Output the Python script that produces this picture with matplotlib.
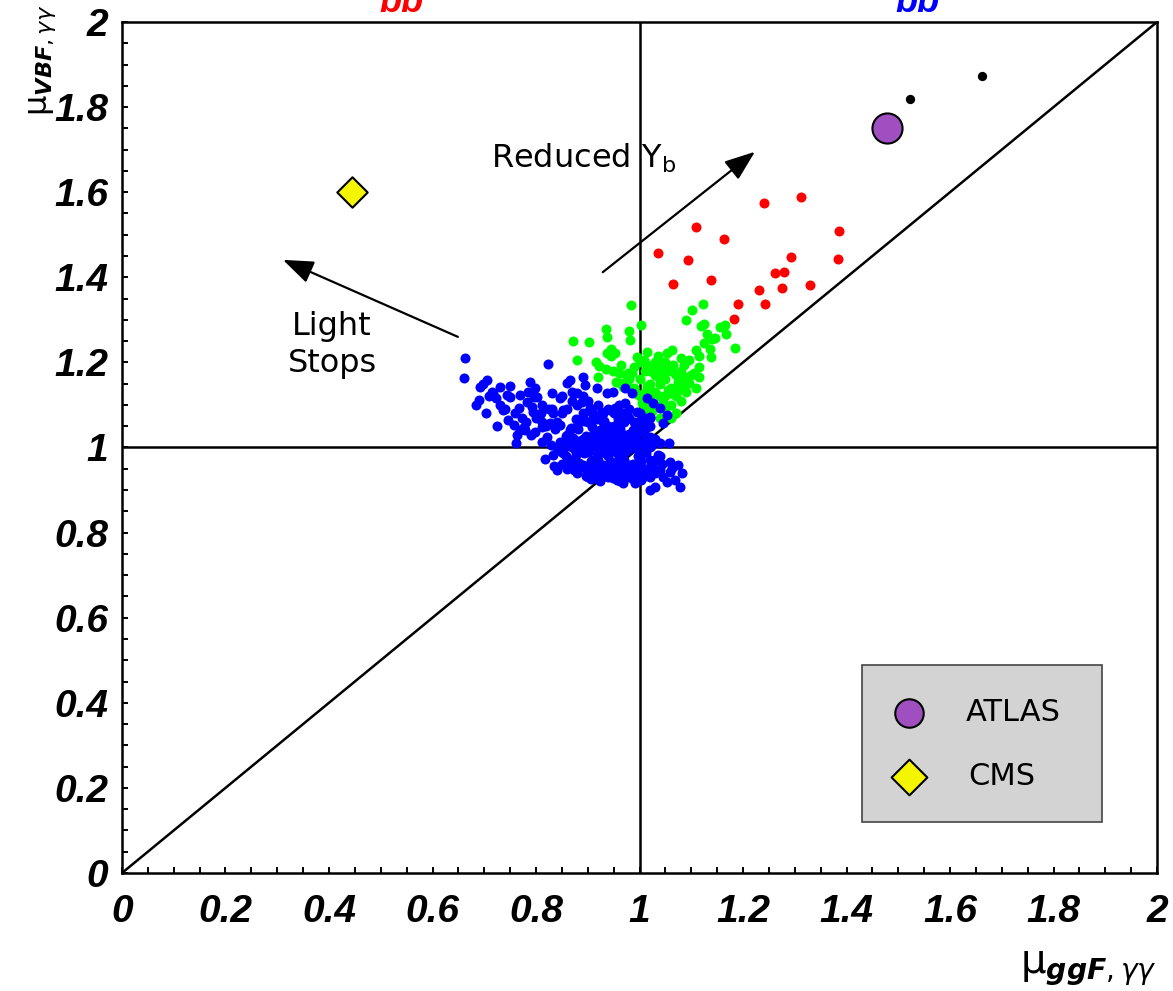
import matplotlib.pyplot as plt
from matplotlib.ticker import MultipleLocator, FuncFormatter
from matplotlib.patches import Rectangle

plt.rcParams['mathtext.fontset'] = 'dejavusans'

# scan points, split by colour
red_x = [1.241, 1.312, 1.109, 1.163, 1.386, 1.035, 1.093, 1.293, 1.383, 1.262,
         1.280, 1.065, 1.138, 1.230, 1.276, 1.330, 1.191, 1.243, 1.183]
red_y = [1.575, 1.589, 1.519, 1.490, 1.509, 1.456, 1.440, 1.447, 1.443, 1.411,
         1.412, 1.384, 1.394, 1.370, 1.376, 1.383, 1.337, 1.337, 1.302]

green_x = [0.984, 1.102, 1.123, 0.935, 1.002, 0.979, 0.937, 0.982, 1.090, 1.118,
           1.125, 1.156, 1.165, 1.130, 1.146, 1.168, 1.140, 1.184, 0.872, 0.902,
           0.879, 0.945, 0.953, 0.937, 0.916, 0.922, 0.949, 0.961, 0.977, 0.995,
           1.009, 1.032, 1.029, 1.054, 1.063, 1.080, 1.085, 1.109, 1.115, 1.137,
           1.138, 1.114, 1.069, 0.920, 0.975, 0.962, 0.969, 1.114, 1.096,
           0.99, 1.00, 1.01, 1.01, 1.02, 1.02, 1.03, 1.03, 1.04, 1.04,
           1.05, 1.05, 1.06, 1.06, 1.07, 1.07, 1.08, 1.00, 0.99, 1.01,
           1.03, 1.05, 1.04, 1.02, 1.06, 1.08, 1.09, 1.07, 0.98, 1.00,
           1.03, 1.05, 1.06, 1.04, 1.10, 1.09, 1.08, 1.11,
           0.995, 1.015, 1.035, 1.055, 1.075, 1.005, 1.025, 1.045, 1.065, 1.085,
           0.985, 1.015, 1.035, 1.055, 1.075, 1.025, 1.045, 1.065, 0.965, 0.955,
           0.945, 0.975, 0.935, 1.095, 1.105, 1.125, 1.085, 1.015]
green_y = [1.335, 1.324, 1.338, 1.278, 1.288, 1.274, 1.260, 1.252, 1.299, 1.286,
           1.290, 1.284, 1.287, 1.267, 1.258, 1.266, 1.255, 1.233, 1.251, 1.247,
           1.206, 1.231, 1.221, 1.221, 1.202, 1.192, 1.180, 1.176, 1.176, 1.213,
           1.206, 1.199, 1.186, 1.221, 1.229, 1.211, 1.194, 1.228, 1.216, 1.232,
           1.213, 1.190, 1.174, 1.165, 1.166, 1.151, 1.143, 1.166, 1.151,
           1.19, 1.16, 1.13, 1.18, 1.15, 1.11, 1.17, 1.13, 1.15, 1.19,
           1.12, 1.16, 1.14, 1.10, 1.17, 1.12, 1.15, 1.12, 1.14, 1.09,
           1.10, 1.09, 1.12, 1.18, 1.18, 1.11, 1.13, 1.08, 1.16, 1.20,
           1.20, 1.20, 1.07, 1.07, 1.17, 1.15, 1.18, 1.14,
           1.125, 1.145, 1.165, 1.135, 1.155, 1.105, 1.125, 1.175, 1.195, 1.165,
           1.175, 1.195, 1.215, 1.185, 1.135, 1.085, 1.105, 1.125, 1.195, 1.155,
           1.215, 1.145, 1.185, 1.205, 1.175, 1.245, 1.135, 1.225]

blue_x = [0.663, 0.661, 0.824, 0.705, 0.692, 0.714, 0.730, 0.750, 0.750, 0.769,
          0.788, 0.798, 0.689, 0.684, 0.703, 0.724, 0.746, 0.772, 0.763, 0.798,
          0.811, 0.792, 0.782, 0.801, 0.811, 0.830, 0.846, 0.859, 0.866, 0.891,
          0.895, 0.879, 0.888, 0.917, 0.937, 0.949, 0.972, 0.985, 1.014, 1.027,
          1.040, 1.053, 1.020, 1.004, 0.975, 0.953, 0.930, 0.904, 0.833, 0.846,
          0.827, 0.821, 0.840, 0.833, 0.840, 0.872, 0.862, 0.866, 0.882, 0.891,
          0.911, 0.930, 0.956, 0.969, 0.991, 1.004, 1.020, 1.030, 1.040, 1.036,
          1.056, 1.059, 1.059, 1.082, 1.078, 1.053, 1.020, 1.014, 1.046, 0.972,
          0.995,
          0.88, 0.89, 0.90, 0.90, 0.91, 0.91, 0.92, 0.92, 0.93, 0.93,
          0.94, 0.94, 0.95, 0.95, 0.96, 0.96, 0.97, 0.97, 0.98, 0.98,
          0.99, 0.99, 1.00, 1.00, 1.01, 1.01, 1.02, 1.02, 1.03, 1.03,
          0.87, 0.87, 0.88, 0.89, 0.89, 0.90, 0.91, 0.92, 0.92, 0.93,
          0.93, 0.94, 0.94, 0.95, 0.95, 0.96, 0.96, 0.97, 0.97, 0.98,
          0.98, 0.99, 1.00, 1.00, 1.01, 1.02, 1.04, 1.04, 0.86, 0.85,
          0.86, 0.88, 0.90, 0.91, 0.93, 0.94, 0.95, 0.96, 0.97, 0.98,
          0.99, 1.00, 1.01, 1.02, 1.03, 0.92, 0.94, 0.96, 0.98, 0.94,
          0.74, 0.76, 0.78, 0.80, 0.82, 0.84, 0.86, 0.88, 0.90, 0.92,
          0.71, 0.73, 0.77, 0.79, 0.81, 0.83, 0.85, 0.87, 0.89, 0.91,
          0.94, 0.96, 0.98, 1.00, 1.02, 0.85, 0.87, 0.89, 0.91, 0.93,
          # dense core
          0.907, 0.924, 0.948, 0.963, 0.987, 1.003,
          0.873, 0.898, 0.913, 0.937, 0.952, 0.978, 0.994, 1.017, 1.032,
          0.866, 0.883, 0.907, 0.922, 0.946, 0.961, 0.987, 1.002, 1.027, 1.043,
          0.853, 0.878, 0.892, 0.917, 0.933, 0.958, 0.972, 0.997, 1.012, 1.036,
          0.862, 0.888, 0.903, 0.928, 0.942, 0.967, 0.983, 1.008, 1.022,
          0.857, 0.872, 0.897, 0.912, 0.938, 0.953, 0.978, 0.992, 1.018,
          0.868, 0.882, 0.908, 0.923, 0.948, 0.962, 0.988, 1.003,
          0.877, 0.893, 0.917, 0.932, 0.958, 0.972, 0.997,
          0.902, 0.927, 0.943, 0.968,
          0.896, 0.914, 0.931, 0.956, 0.974, 0.992, 1.009,
          0.884, 0.901, 0.926, 0.944, 0.969, 0.981, 1.004, 1.021,
          0.876, 0.894, 0.919, 0.935, 0.951, 0.977, 0.994, 1.013,
          0.881, 0.906, 0.921, 0.947, 0.964, 0.986, 1.006,
          0.912, 0.934, 0.957, 0.979,
          # extra fringe
          0.757, 0.776, 0.794, 0.812, 0.836, 0.852, 0.743, 0.768, 0.806, 0.828,
          0.818, 0.842, 0.857, 0.834, 0.851, 0.846, 0.812, 0.826, 0.797, 0.784,
          0.722, 0.737, 0.716, 0.698, 0.779, 0.762, 1.046, 1.062, 1.068, 1.074]
blue_y = [1.210, 1.164, 1.196, 1.159, 1.141, 1.131, 1.141, 1.145, 1.119, 1.123,
          1.153, 1.139, 1.112, 1.100, 1.080, 1.051, 1.065, 1.069, 1.029, 1.037,
          1.013, 1.096, 1.108, 1.119, 1.100, 1.127, 1.116, 1.151, 1.159, 1.166,
          1.147, 1.127, 1.108, 1.139, 1.127, 1.131, 1.139, 1.127, 1.116, 1.104,
          1.092, 1.076, 1.072, 1.065, 1.080, 1.092, 1.080, 1.092, 1.080, 1.053,
          1.057, 1.025, 0.998, 0.982, 0.947, 0.967, 1.018, 1.041, 1.065, 0.955,
          0.947, 0.939, 0.924, 0.916, 0.916, 0.928, 0.900, 0.908, 0.947, 0.978,
          1.010, 0.967, 0.943, 0.939, 0.908, 0.920, 1.025, 1.049, 1.057, 1.104,
          1.084,
          1.05, 1.02, 0.99, 1.06, 1.03, 0.97, 1.00, 1.07, 1.04, 0.96,
          1.01, 0.98, 1.05, 0.95, 1.02, 0.99, 1.06, 0.97, 1.03, 1.00,
          0.96, 1.04, 1.01, 0.98, 0.95, 1.03, 1.00, 0.97, 1.02, 0.94,
          1.00, 0.97, 0.94, 0.96, 1.08, 0.93, 1.00, 0.94, 1.03, 0.99,
          1.08, 0.93, 1.05, 1.00, 1.08, 0.94, 1.05, 1.00, 0.93, 0.96,
          1.07, 1.00, 1.04, 0.94, 0.99, 1.05, 0.98, 1.01, 1.03, 0.99,
          0.95, 0.99, 1.02, 0.95, 1.02, 0.96, 1.03, 0.97, 1.03, 0.93,
          1.06, 0.96, 1.07, 0.93, 0.97, 0.97, 1.00, 1.00, 1.00, 1.03,
          1.09, 1.08, 1.06, 1.07, 1.05, 1.06, 1.09, 1.10, 1.11, 1.10,
          1.12, 1.10, 1.04, 1.03, 1.08, 1.09, 1.12, 1.13, 1.12, 1.07,
          1.09, 1.10, 1.09, 1.08, 1.07, 1.08, 1.11, 1.07, 1.08, 1.06,
          # dense core
          0.926, 0.922, 0.928, 0.921, 0.927, 0.923,
          0.947, 0.943, 0.948, 0.942, 0.946, 0.944, 0.949, 0.941, 0.947,
          0.966, 0.963, 0.968, 0.962, 0.967, 0.964, 0.961, 0.969, 0.965, 0.962,
          0.986, 0.983, 0.988, 0.982, 0.987, 0.984, 0.989, 0.981, 0.986, 0.983,
          1.004, 1.008, 1.003, 1.007, 1.002, 1.006, 1.004, 1.009, 1.003,
          1.026, 1.023, 1.027, 1.022, 1.028, 1.024, 1.021, 1.026, 1.023,
          1.046, 1.043, 1.048, 1.042, 1.047, 1.044, 1.041, 1.046,
          1.066, 1.063, 1.068, 1.062, 1.067, 1.064, 1.061,
          1.086, 1.083, 1.088, 1.082,
          0.934, 0.937, 0.932, 0.936, 0.931, 0.935, 0.938,
          0.956, 0.953, 0.958, 0.952, 0.957, 0.954, 0.951, 0.955,
          0.994, 0.997, 0.992, 0.996, 0.991, 0.995, 0.998, 0.993,
          1.015, 1.012, 1.017, 1.013, 1.016, 1.011, 1.014,
          1.035, 1.033, 1.036, 1.032,
          # extra fringe
          1.052, 1.047, 1.083, 1.061, 1.044, 1.089, 1.124, 1.093, 1.071, 1.006,
          0.972, 0.993, 0.981, 0.957, 0.962, 1.012, 1.048, 1.091, 1.118, 1.131,
          1.117, 1.088, 1.128, 1.149, 1.042, 1.011, 0.931, 0.952, 0.923, 0.958]

black_x = [1.523, 1.661]
black_y = [1.820, 1.874]

atlas_x, atlas_y = [1.479], [1.752]
cms_x, cms_y = [0.444], [1.600]

tick_vals = [0, 0.2, 0.4, 0.6, 0.8, 1, 1.2, 1.4, 1.6, 1.8, 2]

fig = plt.figure(figsize=(11.73, 9.91), dpi=100)
ax = fig.add_axes([0.104, 0.1191, 0.8824, 0.8587])

# reference lines
ax.axhline(1, color='black', lw=1.8, zorder=1)
ax.axvline(1, color='black', lw=1.8, zorder=1)
ax.plot([0, 2], [0, 2], color='black', lw=1.8, zorder=1)

dot = dict(s=52, linewidths=0, zorder=2)
ax.scatter(green_x, green_y, color='#00ff00', **dot)
ax.scatter(blue_x, blue_y, color='#0000ff', **dot)
ax.scatter(red_x, red_y, color='#ff0000', **dot)
ax.scatter(black_x, black_y, color='black', s=45, linewidths=0, zorder=3)

atlas_style = dict(marker='o', s=470, color='#a04fc0', edgecolors='black', linewidths=1.5, zorder=4)
cms_style = dict(marker='D', s=240, color='#f5f500', edgecolors='black', linewidths=1.5, zorder=4)
ax.scatter(atlas_x, atlas_y, **atlas_style)
ax.scatter(cms_x, cms_y, **cms_style)

# arrows and annotations
arr = dict(arrowstyle='-|>,head_length=0.85,head_width=0.32', color='black', lw=1.6,
           mutation_scale=22, shrinkA=0, shrinkB=0)
ax.annotate('', xy=(1.223, 1.695), xytext=(0.929, 1.412), arrowprops=arr)
ax.annotate('', xy=(0.311, 1.441), xytext=(0.649, 1.26), arrowprops=arr)
ax.text(0.891, 1.68, r'Reduced Y$_\mathregular{b}$', fontsize=23, ha='center', va='center',
        family='DejaVu Sans')
ax.text(0.406, 1.24, 'Light\nStops', fontsize=23, ha='center', va='center',
        family='DejaVu Sans', linespacing=1.25)

# legend box
ax.add_patch(Rectangle((0.715, 0.060), 0.232, 0.184, transform=ax.transAxes,
                       facecolor='#d3d3d3', edgecolor='#444444', lw=1.2, zorder=5))
ax.scatter([0.76], [0.188], transform=ax.transAxes, **{**atlas_style, 'zorder': 6, 's': 420})
ax.scatter([0.76], [0.113], transform=ax.transAxes, **{**cms_style, 'zorder': 6, 's': 330})
ax.text(0.815, 0.188, 'ATLAS', transform=ax.transAxes, fontsize=22, va='center', zorder=6)
ax.text(0.818, 0.113, 'CMS', transform=ax.transAxes, fontsize=22, va='center', zorder=6)

ax.set_xlim(0, 2)
ax.set_ylim(0, 2)
ax.set_xticks(tick_vals)
ax.set_yticks(tick_vals)
ax.xaxis.set_minor_locator(MultipleLocator(0.05))
ax.yaxis.set_minor_locator(MultipleLocator(0.05))
fmt = FuncFormatter(lambda v, p: f'{v:g}')
ax.xaxis.set_major_formatter(fmt)
ax.yaxis.set_major_formatter(fmt)
ax.tick_params(which='both', direction='in', length=4, width=1.4, top=False, right=False)
ax.tick_params(axis='x', which='major', pad=15)
ax.tick_params(axis='y', which='major', pad=10)
for lab in ax.get_xticklabels() + ax.get_yticklabels():
    lab.set_family('Liberation Sans')
    lab.set_fontsize(28)
    lab.set_fontweight('bold')
    lab.set_style('italic')
for sp in ax.spines.values():
    sp.set_linewidth(1.8)

# axis titles
fig.text(0.9864, 0.003, r'μ$_{\mathbfit{ggF},\gamma\gamma}$', fontsize=29, ha='right', va='bottom')
fig.text(0.036, 1 - 116 / 991, r'μ$_{\mathbfit{VBF},\gamma\gamma}$', fontsize=23, ha='center',
         va='bottom', rotation=90)

# channel labels along the top edge
fig.text(0.342, 0.988, 'bb', color='red', fontsize=26, fontweight='bold', style='italic',
         family='Liberation Sans', ha='center', va='baseline')
fig.text(0.782, 0.988, 'bb', color='blue', fontsize=26, fontweight='bold', style='italic',
         family='Liberation Sans', ha='center', va='baseline')

fig.savefig('out.png', dpi=100)
